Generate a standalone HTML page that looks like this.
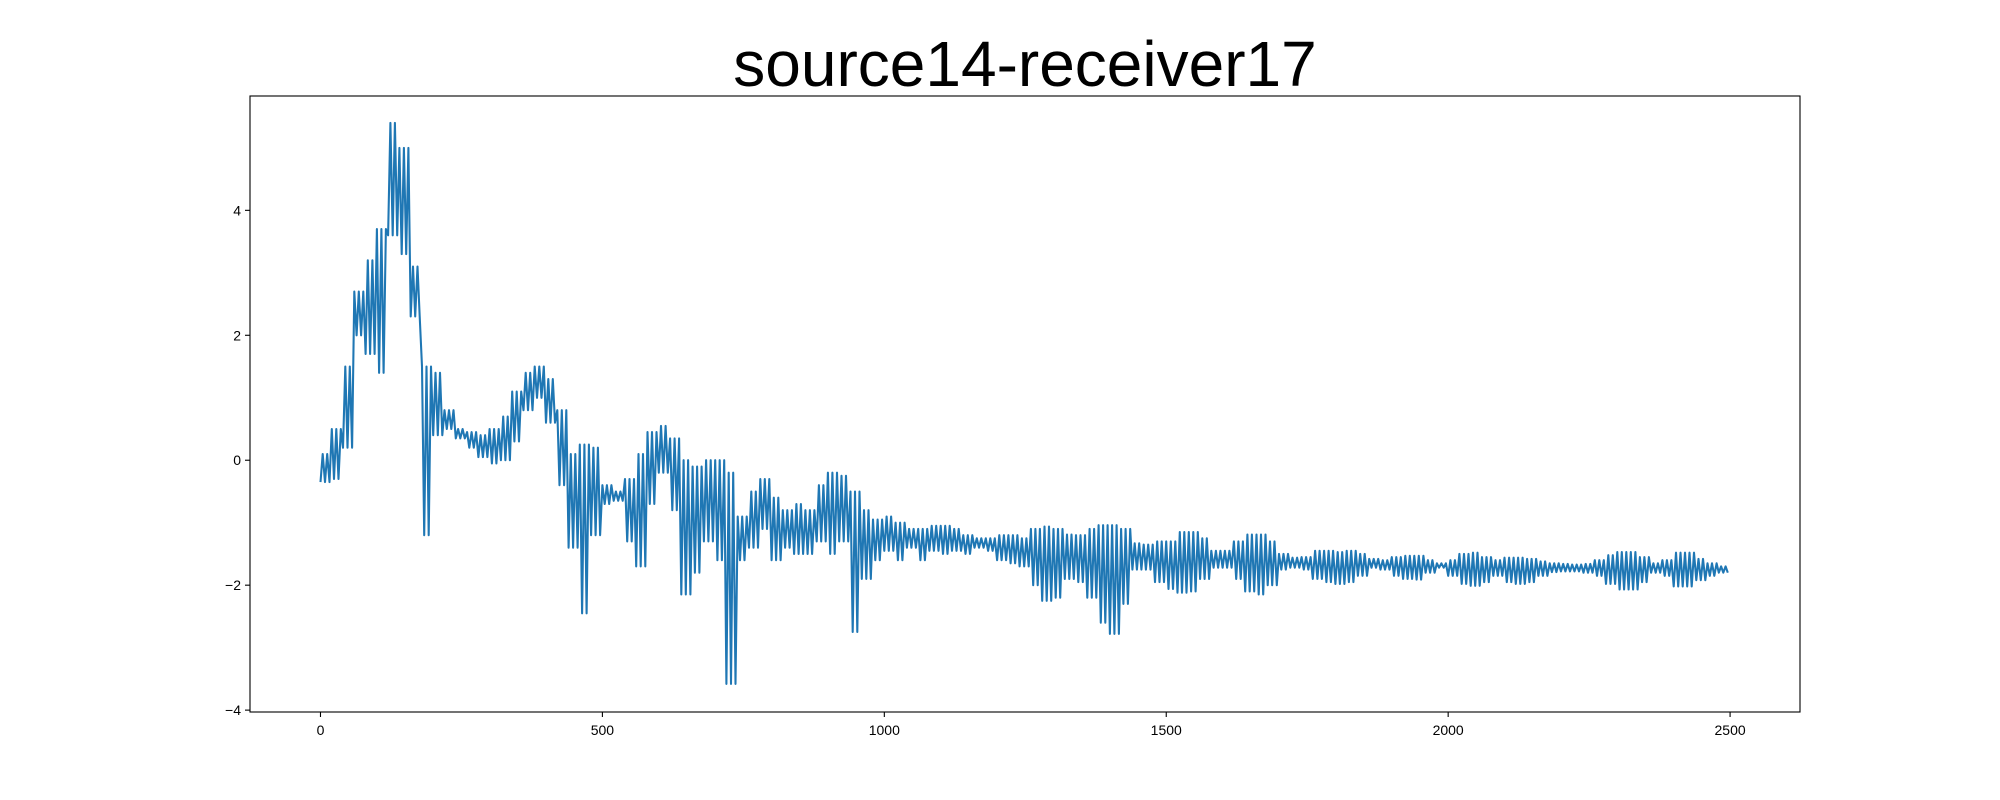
<!DOCTYPE html>
<html><head><meta charset="utf-8"><style>
html,body{margin:0;padding:0;background:#fff;}
svg{display:block;font-family:"Liberation Sans","DejaVu Sans",sans-serif;}
</style></head><body>
<svg id="chart" width="2000" height="800" viewBox="0 0 2000 800" xmlns="http://www.w3.org/2000/svg">
<rect width="2000" height="800" fill="#fff"/>
<text x="1025" y="86" font-size="64" text-anchor="middle" fill="#000">source14-receiver17</text>
<g id="plot"></g>
<g id="axes"></g>
</svg>
<script>
const xTicks = [0, 500, 1000, 1500, 2000, 2500];
const yTicks = [-4, -2, 0, 2, 4];
const binStart = 0;
const binStep = 20;
const upperEnv = [0.1,0.5,1.5,2.7,3.2,3.7,5.4,5.0,3.1,1.5,1.4,0.8,0.5,0.45,0.4,0.5,0.7,1.1,1.4,1.5,1.3,0.8,0.1,0.25,0.2,-0.4,-0.5,-0.3,0.1,0.45,0.55,0.35,0.0,-0.1,0.0,0.0,-0.2,-0.9,-0.5,-0.3,-0.6,-0.8,-0.7,-0.8,-0.4,-0.2,-0.25,-0.5,-0.8,-0.95,-0.9,-1.0,-1.1,-1.1,-1.05,-1.05,-1.1,-1.2,-1.25,-1.25,-1.2,-1.2,-1.25,-1.1,-1.06,-1.1,-1.19,-1.2,-1.1,-1.04,-1.04,-1.1,-1.33,-1.35,-1.3,-1.3,-1.15,-1.15,-1.25,-1.45,-1.45,-1.3,-1.19,-1.19,-1.3,-1.5,-1.56,-1.55,-1.45,-1.45,-1.47,-1.45,-1.5,-1.58,-1.6,-1.55,-1.53,-1.53,-1.6,-1.65,-1.6,-1.5,-1.48,-1.55,-1.6,-1.56,-1.56,-1.58,-1.62,-1.65,-1.66,-1.67,-1.66,-1.6,-1.52,-1.47,-1.47,-1.55,-1.65,-1.6,-1.48,-1.48,-1.58,-1.65,-1.7];
const lowerEnv = [-0.35,-0.3,0.2,2.0,1.7,1.4,3.6,3.3,2.3,-1.2,0.4,0.5,0.35,0.2,0.05,-0.05,0.0,0.3,0.8,1.0,0.6,-0.4,-1.4,-2.45,-1.2,-0.7,-0.65,-1.3,-1.7,-0.7,-0.2,-0.8,-2.15,-1.8,-1.3,-1.6,-3.58,-1.6,-1.4,-1.1,-1.6,-1.4,-1.5,-1.5,-1.3,-1.5,-1.3,-2.75,-1.9,-1.6,-1.45,-1.6,-1.4,-1.6,-1.45,-1.5,-1.45,-1.5,-1.4,-1.45,-1.6,-1.65,-1.7,-2.0,-2.25,-2.2,-1.9,-1.95,-2.2,-2.6,-2.78,-2.3,-1.75,-1.75,-1.95,-2.06,-2.12,-2.1,-1.9,-1.72,-1.72,-1.9,-2.1,-2.15,-2.0,-1.75,-1.72,-1.75,-1.9,-1.95,-1.98,-1.95,-1.85,-1.72,-1.75,-1.85,-1.9,-1.91,-1.8,-1.72,-1.85,-1.98,-2.01,-1.95,-1.85,-1.95,-1.98,-1.95,-1.85,-1.79,-1.78,-1.78,-1.8,-1.85,-1.98,-2.07,-2.07,-1.95,-1.8,-1.85,-2.02,-2.02,-1.92,-1.85,-1.8];

const L=250,R=1800,T=96,B=712;
const xMin=-125,xMax=2624,yMin=-4.03,yMax=5.83;
function sx(v){return L+(v-xMin)/(xMax-xMin)*(R-L);}
function sy(v){return B-(v-yMin)/(yMax-yMin)*(B-T);}
const NS='http://www.w3.org/2000/svg';
const plot=document.getElementById('plot'), axes=document.getElementById('axes');

const sub=5, dx=binStep/sub;
let pts=[], k=0;
for(let i=0;i<upperEnv.length;i++){
  const x0=binStart+i*binStep;
  for(let j=0;j<sub;j++,k++){
    pts.push([x0+j*dx, (k%2===0)?lowerEnv[i]:upperEnv[i]]);
  }
}
const d=pts.map((p,i)=>(i?'L':'M')+sx(p[0]).toFixed(1)+','+sy(p[1]).toFixed(1)).join('');
const path=document.createElementNS(NS,'path');
path.setAttribute('d',d);path.setAttribute('fill','none');path.setAttribute('stroke','#1f77b4');
path.setAttribute('stroke-width','2.08');path.setAttribute('stroke-linejoin','round');


plot.appendChild(path);

const frame=document.createElementNS(NS,'rect');
frame.setAttribute('x',L);frame.setAttribute('y',T);frame.setAttribute('width',R-L);frame.setAttribute('height',B-T);
frame.setAttribute('fill','none');frame.setAttribute('stroke','#000');frame.setAttribute('stroke-width','1.1');


axes.appendChild(frame);

xTicks.forEach(v=>{
  const x=sx(v);
  const ln=document.createElementNS(NS,'line');
  ln.setAttribute('x1',x);ln.setAttribute('x2',x);ln.setAttribute('y1',B);ln.setAttribute('y2',B+5);
  ln.setAttribute('stroke','#000');ln.setAttribute('stroke-width','1.1');
  
  
  axes.appendChild(ln);
  const t=document.createElementNS(NS,'text');
  t.setAttribute('x',x);t.setAttribute('y',B+23);t.setAttribute('font-size','14');t.setAttribute('text-anchor','middle');
  t.textContent=v;
  
  
  axes.appendChild(t);
});
yTicks.forEach(v=>{
  const y=sy(v);
  const ln=document.createElementNS(NS,'line');
  ln.setAttribute('x1',L-5);ln.setAttribute('x2',L);ln.setAttribute('y1',y);ln.setAttribute('y2',y);
  ln.setAttribute('stroke','#000');ln.setAttribute('stroke-width','1.1');
  
  
  axes.appendChild(ln);
  const t=document.createElementNS(NS,'text');
  t.setAttribute('x',L-9);t.setAttribute('y',y+5);t.setAttribute('font-size','14');t.setAttribute('text-anchor','end');
  t.textContent=v<0?'\u2212'+Math.abs(v):v;
  
  
  axes.appendChild(t);
});
</script>
</body></html>
